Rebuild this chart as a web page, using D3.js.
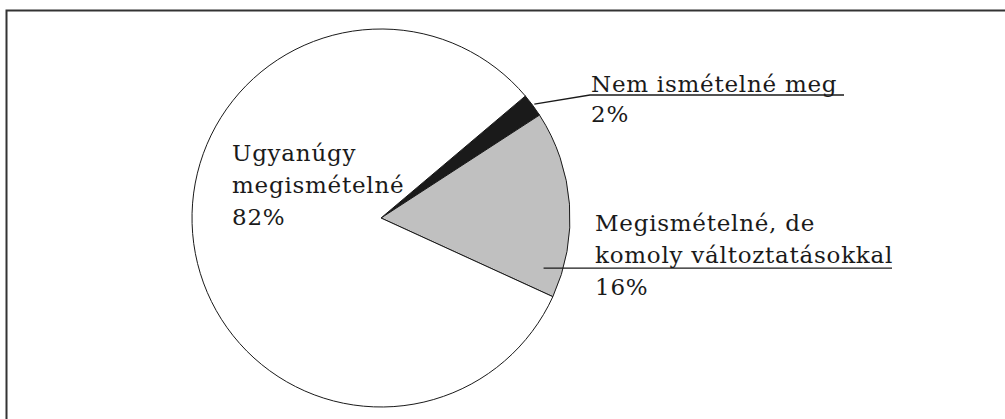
<!DOCTYPE html>
<html>
<head>
<meta charset="utf-8">
<script src="https://cdn.jsdelivr.net/npm/d3@7/dist/d3.min.js"></script>
<style>
  html, body { margin: 0; padding: 0; background: #fff; }
  svg { display: block; }
  .lbl { font-family: "DejaVu Serif", "Liberation Serif", serif; font-size: 23px; letter-spacing: 0.75px; fill: #1a1a1a; }
</style>
</head>
<body>
<script>
// data
var categories = ["Nem ismételné meg", "Megismételné, de komoly változtatásokkal", "Ugyanúgy megismételné"];
var values = [2, 16, 82];
var labelLines = [["Nem ismételné meg", "2%"], ["Megismételné, de", "komoly változtatásokkal", "16%"], ["Ugyanúgy", "megismételné", "82%"]];
var sliceColors = ["#1a1a1a", "#c0c0c0", "#ffffff"];

var width = 1005, height = 419;
var cx = 381, cy = 218, radius = 189;
var startDeg = 49.8;

var svg = d3.select("body").append("svg")
    .attr("width", width)
    .attr("height", height);

// frame (cut off at right and bottom)
svg.append("rect")
    .attr("x", 6.5).attr("y", 10.5)
    .attr("width", width + 20).attr("height", height + 20)
    .attr("fill", "none")
    .attr("stroke", "#333")
    .attr("stroke-width", 2);

var pie = d3.pie()
    .sort(null)
    .startAngle(startDeg * Math.PI / 180)
    .endAngle(startDeg * Math.PI / 180 + 2 * Math.PI)
    .value(function(d){ return d; });

var arc = d3.arc().innerRadius(0).outerRadius(radius);
var arcs = pie(values);

var g = svg.append("g").attr("transform", "translate(" + cx + "," + cy + ")");

g.selectAll("path.slice")
    .data(arcs)
    .enter()
    .append("path")
    .attr("class", "slice")
    .attr("d", arc)
    .attr("fill", function(d, i){ return sliceColors[i]; })
    .attr("stroke", "#1a1a1a")
    .attr("stroke-width", 1);

// helper: point on the pie at angle (radians, clockwise from north) and radius
function polar(a, r){ return [cx + r * Math.sin(a), cy - r * Math.cos(a)]; }

// label 0: leader from black slice edge to underlined text
var a0 = (arcs[0].startAngle + arcs[0].endAngle) / 2;
var p0 = polar(a0, radius + 2);
var x0 = 590, y0 = 95, u0 = 844;
svg.append("polyline")
    .attr("points", [p0, [x0, y0], [u0, y0]].map(function(p){ return p.join(","); }).join(" "))
    .attr("fill", "none").attr("stroke", "#1a1a1a").attr("stroke-width", 1.3);

// label 1: horizontal leader from inside grey slice
var a1 = arcs[1].startAngle + (arcs[1].endAngle - arcs[1].startAngle) * 0.87;
var p1 = polar(a1, radius * 0.9);
var u1 = 892;
svg.append("line")
    .attr("x1", p1[0]).attr("y1", p1[1])
    .attr("x2", u1).attr("y2", p1[1])
    .attr("stroke", "#1a1a1a").attr("stroke-width", 1.3);

var labelPos = [
  {x: 591, y: 92, dy: 30},
  {x: 595, y: 231, dy: 32},
  {x: 232, y: 161, dy: 32}
];

labelLines.forEach(function(lines, i){
  var t = svg.append("text").attr("class", "lbl")
      .attr("x", labelPos[i].x).attr("y", labelPos[i].y);
  t.selectAll("tspan")
    .data(lines)
    .enter()
    .append("tspan")
    .attr("x", labelPos[i].x)
    .attr("dy", function(d, j){ return j === 0 ? 0 : labelPos[i].dy; })
    .text(function(d){ return d; });
});
</script>
</body>
</html>
